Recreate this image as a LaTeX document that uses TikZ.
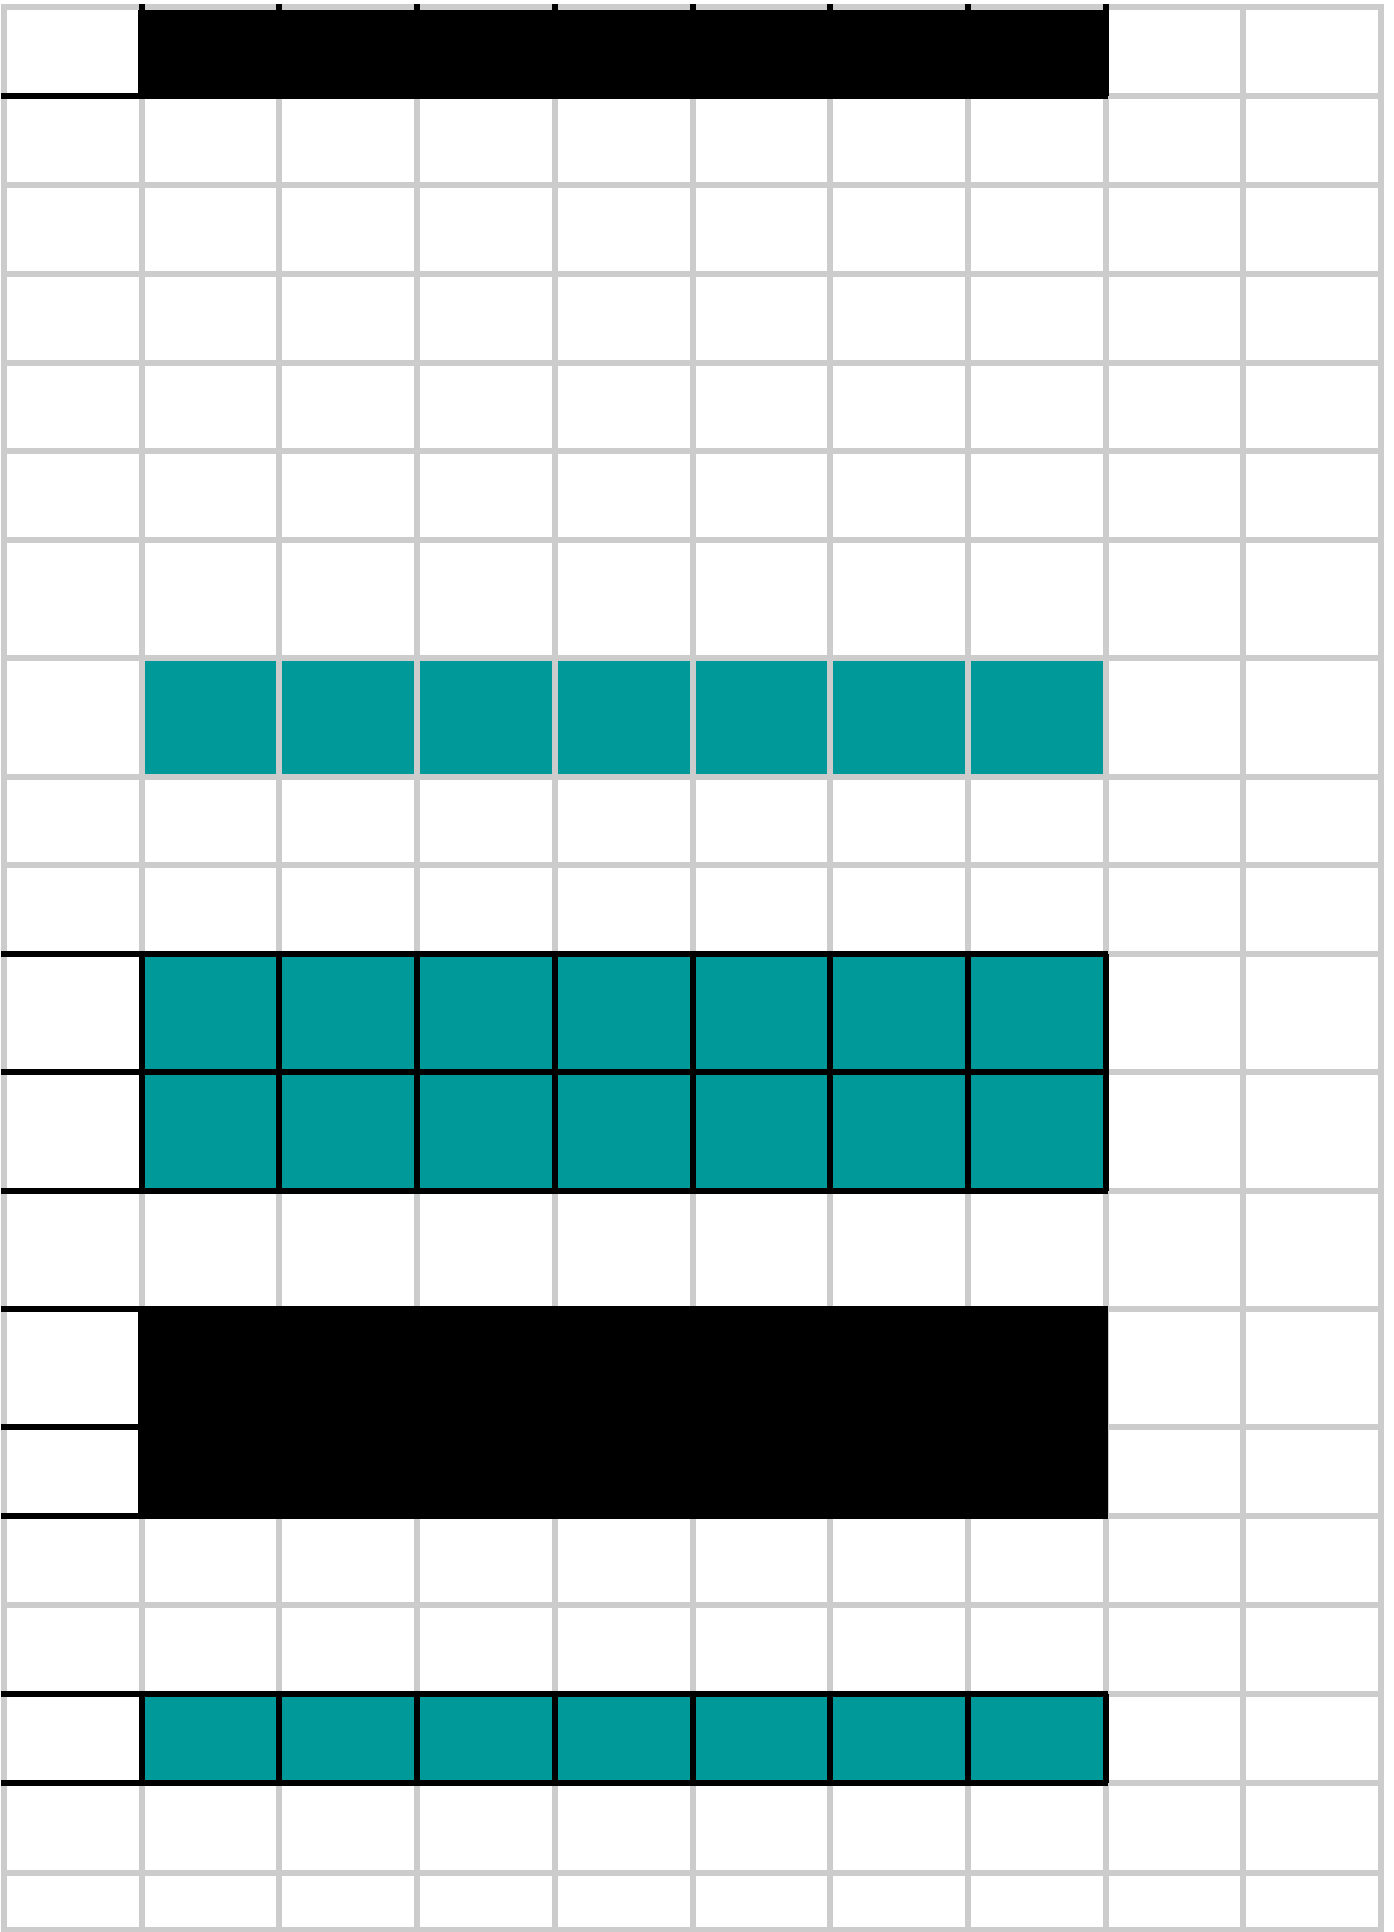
\documentclass[tikz,border=0pt]{standalone}
\usepackage{tikz}
\definecolor{gridgray}{HTML}{CCCCCC}
\definecolor{cellteal}{HTML}{009999}

\begin{document}
\begin{tikzpicture}[x=0.01cm, y=-0.01cm,
      gridline/.style={draw=gridgray, line width=0.06cm},
      border/.style={draw=black, line width=0.06cm},
      tealcell/.style={fill=cellteal},
      blackcell/.style={fill=black}
    ]
      \useasboundingbox (0,0) rectangle (1394,1932);
      \fill[white] (0,0) rectangle (1394,1932);
      \fill[tealcell] (141,658) rectangle (1106,777);
      \fill[tealcell] (141,954) rectangle (1106,1191);
      \fill[tealcell] (141,1694) rectangle (1106,1782);
      \foreach \i in {0,...,10}
        \draw[gridline] ({4+137.7*\i},4) -- ({4+137.7*\i},1933);
      \foreach \y in {7,96,185,274,363,451,540,658,777,865,954,1072,1191,1309,1427,1516,1605,1694,1783,1873,1930}
        \draw[gridline] (1,\y) -- (1384,\y);
      \fill[blackcell] (138,10) rectangle (1108,99);
      \fill[blackcell] (138,1306) rectangle (1108,1519);
      \foreach \i in {1,...,8} {
        \draw[border] ({4+137.7*\i},4) -- ({4+137.7*\i},96);
        \draw[border] ({4+137.7*\i},954) -- ({4+137.7*\i},1191);
        \draw[border] ({4+137.7*\i},1694) -- ({4+137.7*\i},1783);
      }
      \foreach \y in {96,954,1072,1191,1309,1427,1516,1694,1783}
        \draw[border] (1,\y) -- (1108,\y);
    \end{tikzpicture}
\end{document}
